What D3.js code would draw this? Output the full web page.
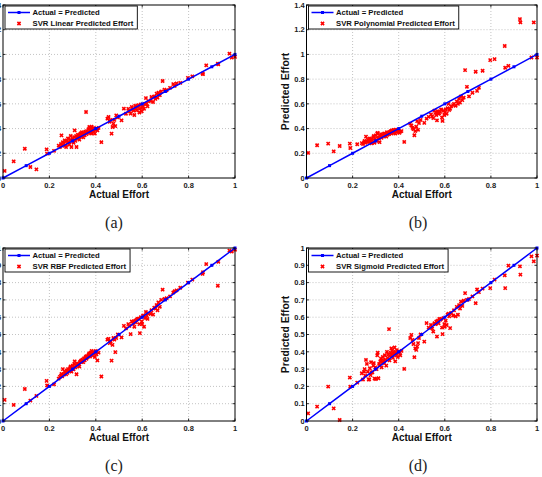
<!DOCTYPE html>
<html><head><meta charset="utf-8">
<script src="https://cdn.jsdelivr.net/npm/d3@7"></script>
<style>body{margin:0;background:#fff} svg{display:block}</style>
</head><body>
<svg id="chart" width="542" height="477"></svg>
<script>
// ---- data ----
const actualEffort = [0.007,0.046,0.094,0.118,0.144,0.188,0.190,0.220,
0.240,0.245,0.250,0.252,0.255,0.258,0.262,0.266,0.270,0.272,0.275,0.278,0.280,0.283,0.286,0.290,0.292,0.295,0.298,0.301,0.304,0.307,0.309,0.312,0.315,0.317,0.320,0.323,0.326,0.329,0.331,0.334,0.337,0.340,0.343,0.346,0.349,0.352,0.355,0.358,0.360,0.362,0.365,0.368,0.370,0.372,0.375,0.378,0.380,0.382,0.385,0.388,0.390,0.392,0.396,0.400,0.403,0.407,0.412,0.424,
0.450,0.455,0.460,0.464,0.468,0.472,0.476,0.480,0.484,0.488,0.495,0.511,0.521,
0.530,0.540,0.545,0.550,0.555,0.560,0.563,0.566,0.570,0.573,0.576,0.580,0.584,0.588,0.590,0.594,0.598,0.600,0.604,0.608,0.612,0.616,0.619,0.623,0.628,
0.636,0.640,0.647,0.652,0.657,0.662,0.666,0.670,0.676,0.682,0.688,0.696,
0.705,0.720,0.734,0.740,0.748,0.764,0.797,
0.816,0.860,0.862,0.876,0.926,0.928,0.976,0.986,1.000];

const svrLinear = [0.057,0.135,0.237,0.089,0.070,0.232,0.197,0.220,
0.262,0.250,0.275,0.345,0.260,0.290,0.280,0.305,0.265,0.251,0.300,0.285,0.320,0.290,0.270,0.310,0.340,0.251,0.300,0.318,0.285,0.330,0.386,0.300,0.340,0.251,0.320,0.350,0.330,0.310,0.345,0.360,0.335,0.370,0.350,0.330,0.365,0.345,0.375,0.534,0.355,0.380,0.365,0.395,0.370,0.413,0.385,0.400,0.360,0.415,0.380,0.395,0.370,0.405,0.359,0.390,0.400,0.385,0.405,0.290,
0.480,0.494,0.455,0.470,0.359,0.413,0.440,0.470,0.420,0.507,0.490,0.467,0.561,
0.520,0.560,0.540,0.521,0.575,0.555,0.545,0.510,0.585,0.560,0.548,0.575,0.590,0.530,0.561,0.595,0.540,0.570,0.580,0.560,0.600,0.647,0.601,0.580,0.620,
0.625,0.656,0.615,0.660,0.640,0.683,0.650,0.690,0.670,0.700,0.785,0.715,
0.710,0.730,0.760,0.745,0.765,0.770,0.810,
0.823,0.845,0.840,0.912,0.925,0.920,1.006,0.974,0.980];

const svrPolynomial = [0.203,0.265,0.278,0.216,0.259,0.278,0.243,0.273,
0.282,0.275,0.290,0.300,0.285,0.335,0.295,0.310,0.305,0.290,0.320,0.300,0.315,0.280,0.305,0.330,0.340,0.285,0.318,0.345,0.300,0.360,0.365,0.320,0.330,0.290,0.340,0.355,0.325,0.345,0.350,0.338,0.360,0.345,0.355,0.335,0.370,0.350,0.360,0.355,0.370,0.365,0.378,0.360,0.385,0.375,0.370,0.390,0.375,0.385,0.360,0.392,0.380,0.372,0.385,0.378,0.365,0.375,0.380,0.292,
0.440,0.425,0.405,0.395,0.346,0.380,0.415,0.460,0.390,0.445,0.470,0.446,0.480,
0.495,0.515,0.500,0.485,0.545,0.530,0.510,0.467,0.540,0.520,0.525,0.535,0.555,0.490,0.462,0.545,0.510,0.530,0.555,0.520,0.565,0.600,0.550,0.560,0.580,
0.590,0.600,0.585,0.620,0.600,0.640,0.610,0.660,0.630,0.650,0.873,0.738,
0.660,0.690,0.860,0.705,0.730,0.868,0.954,
0.962,1.068,0.892,0.908,1.286,1.259,0.975,1.259,0.975];

const svrRbf = [0.122,0.093,0.185,0.118,0.145,0.232,0.205,0.212,
0.245,0.255,0.262,0.272,0.258,0.300,0.268,0.285,0.280,0.270,0.292,0.278,0.300,0.290,0.300,0.310,0.315,0.285,0.305,0.320,0.298,0.330,0.345,0.310,0.318,0.270,0.325,0.332,0.330,0.315,0.340,0.345,0.350,0.342,0.355,0.340,0.362,0.350,0.368,0.373,0.360,0.375,0.370,0.380,0.385,0.390,0.372,0.395,0.385,0.405,0.378,0.400,0.390,0.395,0.370,0.405,0.385,0.350,0.395,0.257,
0.470,0.475,0.450,0.460,0.349,0.440,0.480,0.470,0.398,0.480,0.500,0.483,0.550,
0.535,0.560,0.550,0.502,0.575,0.565,0.575,0.545,0.580,0.570,0.585,0.590,0.592,0.560,0.508,0.600,0.575,0.560,0.610,0.545,0.595,0.630,0.610,0.590,0.620,
0.620,0.640,0.615,0.655,0.650,0.670,0.640,0.685,0.660,0.700,0.759,0.705,
0.710,0.720,0.743,0.750,0.755,0.770,0.800,
0.817,0.850,0.860,0.907,0.782,0.920,0.985,0.980,0.990];

const svrSigmoid = [0.044,0.083,0.199,0.073,0.006,0.251,0.199,0.222,
0.276,0.240,0.285,0.300,0.262,0.353,0.330,0.285,0.240,0.241,0.305,0.265,0.340,0.280,0.282,0.320,0.335,0.245,0.310,0.243,0.300,0.380,0.395,0.247,0.330,0.320,0.345,0.360,0.310,0.340,0.370,0.350,0.335,0.380,0.355,0.320,0.400,0.365,0.385,0.531,0.350,0.375,0.395,0.420,0.380,0.410,0.365,0.400,0.390,0.425,0.345,0.395,0.380,0.410,0.370,0.395,0.400,0.380,0.405,0.301,
0.480,0.498,0.469,0.445,0.369,0.420,0.411,0.430,0.450,0.480,0.500,0.459,0.566,
0.540,0.555,0.535,0.517,0.565,0.560,0.575,0.488,0.580,0.565,0.590,0.585,0.590,0.540,0.502,0.595,0.560,0.545,0.580,0.555,0.615,0.620,0.605,0.537,0.625,
0.610,0.640,0.605,0.660,0.614,0.670,0.650,0.690,0.665,0.695,0.739,0.700,
0.705,0.720,0.681,0.760,0.745,0.765,0.768,
0.817,0.842,0.768,0.898,0.894,0.846,0.952,0.923,0.956];

const diagonalPoints = [0,0.1,0.2,0.3,0.4,0.5,0.6,0.7,0.8,0.9,1];
const xTicks = [0,0.2,0.4,0.6,0.8,1];
const yTicksWide = [0,0.2,0.4,0.6,0.8,1,1.2,1.4];
const yTicksUnit = [0,0.1,0.2,0.3,0.4,0.5,0.6,0.7,0.8,0.9,1];
const panelLabels = ["(a)","(b)","(c)","(d)"];
const legendNames = ["SVR Linear Predicted Effort","SVR Polynomial Predicted Effort","SVR RBF Predicted Effort","SVR Sigmoid Predicted Effort"];
const lineLegend = "Actual = Predicted";
const xAxisTitle = "Actual Effort";
const yAxisTitle = "Predicted Effort";

// ---- layout ----
const predictions = [svrLinear, svrPolynomial, svrRbf, svrSigmoid];
const yMaxes = [1.4, 1.4, 1, 1];
const yTickSets = [yTicksWide, yTicksWide, yTicksUnit, yTicksUnit];
const boxes = [
  {l:3, r:235, t:5, b:178, cx:114},
  {l:306.5, r:537, t:5, b:178, cx:418},
  {l:3, r:235, t:248, b:421, cx:114},
  {l:306.5, r:537, t:248, b:421, cx:418}
];

const svg = d3.select("#chart");
const sans = "'Liberation Sans', Arial, Helvetica, sans-serif";
const xMark = (px, py, s) => `M${px-s},${py-s}L${px+s},${py+s}M${px-s},${py+s}L${px+s},${py-s}`;

boxes.forEach((bx, i) => {
  const x = d3.scaleLinear().domain([0,1]).range([bx.l, bx.r]);
  const y = d3.scaleLinear().domain([0,yMaxes[i]]).range([bx.b, bx.t]);
  const g = svg.append("g");

  // grid
  g.selectAll(".gx").data(xTicks.slice(1,-1)).join("line")
    .attr("x1", d=>x(d)).attr("x2", d=>x(d)).attr("y1", bx.t).attr("y2", bx.b)
    .attr("stroke","#b4b4b4").attr("stroke-width",0.8).attr("stroke-dasharray","1,2");
  g.selectAll(".gy").data(yTickSets[i].slice(1,-1)).join("line")
    .attr("y1", d=>y(d)).attr("y2", d=>y(d)).attr("x1", bx.l).attr("x2", bx.r)
    .attr("stroke","#b4b4b4").attr("stroke-width",0.8).attr("stroke-dasharray","1,2");

  // ticks (inward, all sides)
  const tl = 2.5;
  xTicks.forEach(d => {
    g.append("line").attr("x1",x(d)).attr("x2",x(d)).attr("y1",bx.b).attr("y2",bx.b-tl).attr("stroke","#000").attr("stroke-width",0.8);
    g.append("line").attr("x1",x(d)).attr("x2",x(d)).attr("y1",bx.t).attr("y2",bx.t+tl).attr("stroke","#000").attr("stroke-width",0.8);
  });
  yTickSets[i].forEach(d => {
    g.append("line").attr("y1",y(d)).attr("y2",y(d)).attr("x1",bx.l).attr("x2",bx.l+tl).attr("stroke","#000").attr("stroke-width",0.8);
    g.append("line").attr("y1",y(d)).attr("y2",y(d)).attr("x1",bx.r).attr("x2",bx.r-tl).attr("stroke","#000").attr("stroke-width",0.8);
  });

  // tick labels
  g.selectAll(".xl").data(xTicks).join("text")
    .attr("x", d=>x(d)).attr("y", bx.b+9.5).attr("text-anchor","middle")
    .attr("font-family",sans).attr("font-weight","bold").attr("font-size",7.5).attr("fill","#222")
    .text(d=>String(d));
  g.selectAll(".yl").data(yTickSets[i]).join("text")
    .attr("x", bx.l-1.8).attr("y", d=>y(d)+2.7).attr("text-anchor","end")
    .attr("font-family",sans).attr("font-weight","bold").attr("font-size",7.5).attr("fill","#222")
    .text(d=>String(d));

  // axis titles
  g.append("text").attr("x",(bx.l+bx.r)/2).attr("y",bx.b+20)
    .attr("text-anchor","middle").attr("font-family",sans).attr("font-weight","bold")
    .attr("font-size",10).attr("fill","#111").text(xAxisTitle);
  g.append("text").attr("transform",`translate(${bx.l-17.5},${(bx.t+bx.b)/2}) rotate(-90)`)
    .attr("text-anchor","middle").attr("font-family",sans).attr("font-weight","bold")
    .attr("font-size",10.3).attr("fill","#111").text(yAxisTitle);

  // scatter (red x markers)
  const pts = actualEffort.map((a,k)=>[a, predictions[i][k]]);
  g.selectAll(".pt").data(pts).join("path")
    .attr("d", d => xMark(x(d[0]), y(d[1]), 1.6))
    .attr("stroke","#ff0000").attr("stroke-width",1.6).attr("fill","none");

  // diagonal line
  const line = d3.line().x(d=>x(d)).y(d=>y(d));
  g.append("path").datum(diagonalPoints).attr("d",line)
    .attr("stroke","#0000ff").attr("stroke-width",1.5).attr("fill","none");
  g.selectAll(".dm").data(diagonalPoints).join("rect")
    .attr("x", d=>x(d)-1.5).attr("y", d=>y(d)-1.5).attr("width",3).attr("height",3)
    .attr("fill","#0000ff");

  // axes box
  g.append("rect").attr("x",bx.l).attr("y",bx.t).attr("width",bx.r-bx.l).attr("height",bx.b-bx.t)
    .attr("fill","none").attr("stroke","#000").attr("stroke-width",1);

  // legend
  const lg = g.append("g");
  const lbox = lg.append("rect").attr("x",bx.l+2).attr("y",bx.t+1).attr("height",23)
    .attr("fill","#fff").attr("stroke","#000").attr("stroke-width",0.9);
  lg.append("line").attr("x1",bx.l+5).attr("x2",bx.l+27).attr("y1",bx.t+7.5).attr("y2",bx.t+7.5)
    .attr("stroke","#0000ff").attr("stroke-width",1.5);
  lg.append("rect").attr("x",bx.l+14.5).attr("y",bx.t+6).attr("width",3).attr("height",3).attr("fill","#0000ff");
  lg.append("path").attr("d", xMark(bx.l+16, bx.t+18.5, 1.6))
    .attr("stroke","#ff0000").attr("stroke-width",1.6);
  const t1 = lg.append("text").attr("x",bx.l+29.5).attr("y",bx.t+10.3)
    .attr("font-family",sans).attr("font-weight","bold").attr("font-size",7.7).attr("fill","#111").text(lineLegend);
  const t2 = lg.append("text").attr("x",bx.l+29.5).attr("y",bx.t+21.3)
    .attr("font-family",sans).attr("font-weight","bold").attr("font-size",7.7).attr("fill","#111").text(legendNames[i]);
  const w = Math.max(t1.node().getComputedTextLength(), t2.node().getComputedTextLength());
  lbox.attr("width", 29.5 + w + 4 - 2);

  // panel label
  svg.append("text").attr("x",bx.cx).attr("y",bx.b+50)
    .attr("text-anchor","middle").attr("font-family","'Liberation Serif','DejaVu Serif',serif")
    .attr("font-size",16).attr("fill","#222").text(panelLabels[i]);
});
</script>
</body></html>
